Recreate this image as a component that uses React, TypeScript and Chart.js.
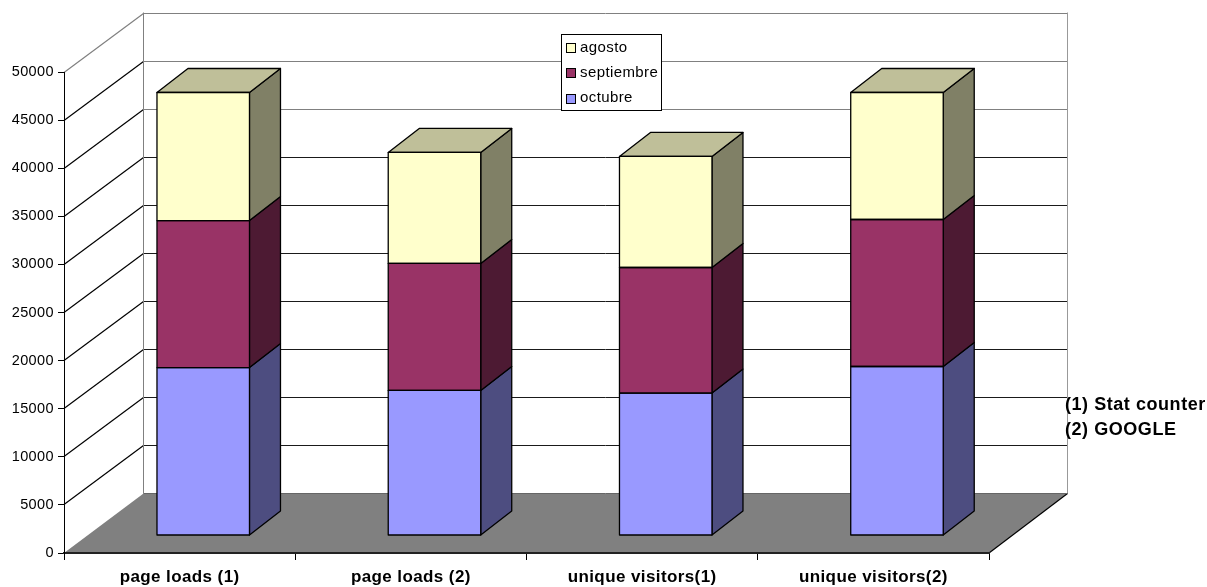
import React, { useEffect, useRef } from "react";
import { Chart, registerables } from "chart.js";

Chart.register(...registerables);

const categories = ["page loads (1)", "page loads (2)", "unique visitors(1)", "unique visitors(2)"];
const octubre = [17460, 15080, 14810, 17570];
const septiembre = [15280, 13200, 13050, 15280];
const agosto = [13310, 11540, 11540, 13200];
const notes = ["(1) Stat counter", "(2) GOOGLE"];

const FONT = "'Liberation Sans', Arial, sans-serif";
const WALL = { dx: 79.5, dy: -59.5 };
const BAR = { dx: 31, dy: -24, offX: 23.6, offY: -17.5 };
const colors = ["#9999FF", "#993366", "#FFFFCC"];
const sideColors = ["#4D4D80", "#4D1A33", "#808066"];
const topColor = "#BFBF99";
const OUTLINE = 1.3;

function poly(ctx: CanvasRenderingContext2D, pts: number[][], fill?: string, stroke?: string) {
  ctx.beginPath();
  pts.forEach((p, i) => (i ? ctx.lineTo(p[0], p[1]) : ctx.moveTo(p[0], p[1])));
  ctx.closePath();
  if (fill) {
    ctx.fillStyle = fill;
    ctx.fill();
  }
  if (stroke) {
    ctx.strokeStyle = stroke;
    ctx.lineWidth = OUTLINE;
    ctx.stroke();
  }
}

function seg(ctx: CanvasRenderingContext2D, x1: number, y1: number, x2: number, y2: number, color: string, w = 1) {
  ctx.beginPath();
  ctx.moveTo(x1, y1);
  ctx.lineTo(x2, y2);
  ctx.strokeStyle = color;
  ctx.lineWidth = w;
  ctx.stroke();
}

const snap = (v: number) => Math.round(v - 0.5) + 0.5;

const box3d = {
  id: "box3d",
  beforeDraw(chart: any) {
    const { ctx, chartArea: a, scales } = chart;
    (ctx as any).letterSpacing = "0.4px";
    const y = scales.y;
    const { dx, dy } = WALL;
    const L = a.left;
    const R = a.right;
    const bx = L + dx;
    const bxr = R + dx - 1;
    ctx.save();
    y.ticks.forEach((t: any) => {
      const py = snap(y.getPixelForValue(t.value));
      const backY = snap(py + dy);
      const light = t.value >= 40000;
      if (t.value > 0) {
        seg(ctx, bx, backY, bxr, backY, light ? "#808080" : "#1a1a1a");
        if (t.value === 50000) seg(ctx, L, py, bx, backY, "#808080", 1.2);
        else seg(ctx, L, py, bx, backY, "#000000", 1.2);
      }
    });
    const wallTop = snap(y.getPixelForValue(50000) + dy);
    const fy = y.getPixelForValue(0);
    seg(ctx, bx, wallTop, bx, fy + dy, "#808080");
    seg(ctx, bxr, wallTop, bxr, fy + dy, "#999999");
    poly(ctx, [[L, fy], [R, fy], [bxr, fy + dy], [bx, fy + dy]], "#808080");
    seg(ctx, R, fy, bxr, fy + dy, "#000000", 1.2);
    seg(ctx, bx, snap(fy + dy), bxr, snap(fy + dy), "#666666");
    ctx.restore();
  },
  beforeDatasetsDraw(chart: any) {
    const { ctx } = chart;
    const n = chart.data.datasets.length;
    ctx.save();
    ctx.translate(BAR.offX, BAR.offY);
    ctx.lineJoin = "round";
    for (let d = 0; d < n; d++) {
      const els = chart.getDatasetMeta(d).data;
      els.forEach((el: any) => {
        const p = el.getProps(["x", "y", "base", "width"], true);
        const r = p.x + p.width / 2;
        const l = p.x - p.width / 2;
        poly(
          ctx,
          [[r, p.base], [r + BAR.dx, p.base + BAR.dy], [r + BAR.dx, p.y + BAR.dy], [r, p.y]],
          sideColors[d],
          "#000000",
        );
        if (d === n - 1) {
          poly(
            ctx,
            [[l, p.y], [r, p.y], [r + BAR.dx, p.y + BAR.dy], [l + BAR.dx, p.y + BAR.dy]],
            topColor,
            "#000000",
          );
        }
      });
    }
  },
  afterDatasetsDraw(chart: any) {
    const { ctx } = chart;
    chart.data.datasets.forEach((_: any, d: number) => {
      chart.getDatasetMeta(d).data.forEach((el: any) => {
        const p = el.getProps(["x", "y", "base", "width"], true);
        ctx.strokeStyle = "#000000";
        ctx.lineWidth = OUTLINE;
        ctx.strokeRect(p.x - p.width / 2, p.y, p.width, p.base - p.y);
      });
    });
    ctx.restore();
  },
  afterDraw(chart: any) {
    const { ctx } = chart;
    ctx.save();
    ctx.fillStyle = "#ffffff";
    ctx.strokeStyle = "#000000";
    ctx.lineWidth = 1;
    ctx.fillRect(561.5, 34.5, 100, 76);
    ctx.strokeRect(561.5, 34.5, 100, 76);
    ctx.font = `15px ${FONT}`;
    ctx.textBaseline = "middle";
    ctx.textAlign = "left";
    const rows = [...chart.data.datasets].reverse();
    rows.forEach((ds: any, i: number) => {
      const cy = 47.5 + i * 25.3;
      ctx.fillStyle = ds.backgroundColor;
      ctx.fillRect(566.5, Math.round(cy - 4.5) + 0.5, 9, 9);
      ctx.strokeStyle = "#000000";
      ctx.strokeRect(566.5, Math.round(cy - 4.5) + 0.5, 9, 9);
      ctx.fillStyle = "#000000";
      ctx.fillText(ds.label, 580, cy);
    });
    ctx.font = `bold 18px ${FONT}`;
    (ctx as any).letterSpacing = "0.55px";
    notes.forEach((s, i) => ctx.fillText(s, 1065, 405 + i * 25));
    ctx.restore();
  },
};

export default function App() {
  const ref = useRef<HTMLCanvasElement>(null);
  useEffect(() => {
    const chart = new Chart(ref.current!, {
      type: "bar",
      data: {
        labels: categories,
        datasets: [
          { label: "octubre", data: octubre, backgroundColor: colors[0] },
          { label: "septiembre", data: septiembre, backgroundColor: colors[1] },
          { label: "agosto", data: agosto, backgroundColor: colors[2] },
        ].map((d) => ({
          ...d,
          borderWidth: 0,
          barPercentage: 0.4,
          categoryPercentage: 1,
          clip: false,
        })) as any,
      },
      options: {
        animation: false,
        responsive: false,
        devicePixelRatio: 1,
        layout: { padding: { top: 72, right: 218, left: 0, bottom: 0 } },
        plugins: { legend: { display: false }, tooltip: { enabled: false } },
        scales: {
          x: {
            stacked: true,
            afterFit: (s: any) => {
              s.height = 34;
            },
            border: { color: "#222222", width: 2 },
            grid: { drawOnChartArea: false, color: "#000000", tickLength: 7 },
            ticks: { color: "#000000", font: { family: FONT, size: 17, weight: "bold" }, padding: 7, maxRotation: 0 },
          },
          y: {
            stacked: true,
            min: 0,
            max: 50000,
            afterFit: (s: any) => {
              s.width = 64;
            },
            border: { color: "#000000", width: 1 },
            grid: { drawOnChartArea: false, color: "#000000", tickLength: 6 },
            ticks: {
              stepSize: 5000,
              color: "#000000",
              font: { family: FONT, size: 14.5 },
              padding: 4,
              callback: (v: any) => String(v),
            },
          },
        },
      },
      plugins: [box3d],
    } as any);
    return () => chart.destroy();
  }, []);
  return (
    <div style={{ position: "absolute", left: 0, top: 0, width: 1207, height: 587, background: "#fff" }}>
      <canvas ref={ref} width={1207} height={587} style={{ display: "block" }} />
    </div>
  );
}
